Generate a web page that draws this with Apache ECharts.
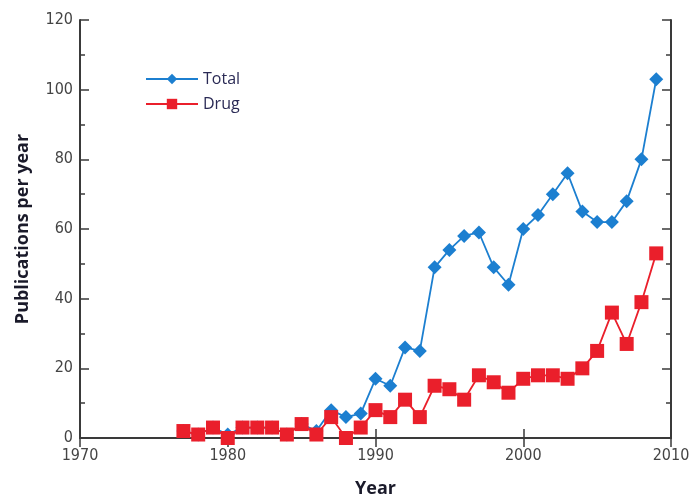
<!DOCTYPE html>
<html>
<head>
<meta charset="utf-8">
<script src="https://cdn.jsdelivr.net/npm/echarts@6/dist/echarts.min.js"></script>
<style>html,body{margin:0;padding:0;background:#fff}#c{width:697px;height:498px}</style>
</head>
<body>
<div id="c"></div>
<script>
var years = [1977,1978,1979,1980,1981,1982,1983,1984,1985,1986,1987,1988,1989,1990,1991,1992,1993,1994,1995,1996,1997,1998,1999,2000,2001,2002,2003,2004,2005,2006,2007,2008,2009];
var totalValues = [2,1,3,1,3,3,3,1,4,2,8,6,7,17,15,26,25,49,54,58,59,49,44,60,64,70,76,65,62,62,68,80,103];
var drugValues = [2,1,3,0,3,3,3,1,4,1,6,0,3,8,6,11,6,15,14,11,18,16,13,17,18,18,17,20,25,36,27,39,53];
var xTicks = [1970,1980,1990,2000,2010];
var yTicks = [0,20,40,60,80,100,120];

function pairs(vals){ return years.map(function(y,i){ return [y, vals[i]]; }); }

var chart = echarts.init(document.getElementById('c'));
var lineCol = '#3a3a3a';
var condensed = '"DejaVu Sans Condensed", "Liberation Sans Narrow", "Open Sans", sans-serif';
var labelFont = {color:'#444', fontSize:16, fontFamily:condensed};
var nameFont = {fontSize:18, fontWeight:'bold', color:'#1a1a2a', fontFamily:'"Open Sans", sans-serif'};
chart.setOption({
  animation:false,
  grid:{left:80, right:26, top:20, bottom:60, containLabel:false, outerBoundsMode:'none'},
  legend:{
    orient:'vertical', left:140, top:66, itemGap:9, itemWidth:52, itemHeight:13,
    textStyle:{fontSize:16, color:'#2a2a55', fontFamily:'"Open Sans", sans-serif'},
    data:['Total','Drug']
  },
  xAxis:[{
    type:'value', min:xTicks[0], max:xTicks[xTicks.length-1], interval:10,
    name:'Year', nameLocation:'middle', nameGap:42,
    nameTextStyle:nameFont,
    axisLine:{lineStyle:{color:lineCol, width:2}},
    axisTick:{inside:true, length:9, lineStyle:{color:lineCol, width:1.5}},
    axisLabel:Object.assign({margin:10, formatter:function(v){return String(v);}}, labelFont),
    splitLine:{show:false}
  },{
    type:'value', position:'top', min:xTicks[0], max:xTicks[xTicks.length-1], interval:10,
    axisLine:{show:true, lineStyle:{color:lineCol, width:2}},
    axisTick:{show:true, inside:true, length:9, lineStyle:{color:lineCol, width:1.5}},
    axisLabel:{show:false}, splitLine:{show:false}
  }],
  yAxis:[{
    type:'value', min:yTicks[0], max:yTicks[yTicks.length-1], interval:20,
    name:'Publications per year', nameLocation:'middle', nameGap:48,
    nameTextStyle:nameFont,
    axisLine:{show:true, lineStyle:{color:lineCol, width:2}},
    axisTick:{inside:true, length:9, lineStyle:{color:lineCol, width:1.5}},
    minorTick:{show:true, splitNumber:2, length:5, lineStyle:{color:lineCol, width:1.5}},
    axisLabel:Object.assign({margin:7}, labelFont),
    splitLine:{show:false}
  },{
    type:'value', position:'right', min:yTicks[0], max:yTicks[yTicks.length-1], interval:20,
    axisLine:{show:true, lineStyle:{color:lineCol, width:2}},
    axisTick:{show:true, inside:true, length:9, lineStyle:{color:lineCol, width:1.5}},
    minorTick:{show:true, splitNumber:2, length:5, lineStyle:{color:lineCol, width:1.5}},
    axisLabel:{show:false}, splitLine:{show:false}
  }],
  series:[{
    name:'Total', type:'line', data:pairs(totalValues),
    symbol:'diamond', symbolSize:14,
    lineStyle:{color:'#1c7fd0', width:1.8},
    itemStyle:{color:'#1c7fd0'}, z:2
  },{
    name:'Drug', type:'line', data:pairs(drugValues),
    symbol:'rect', symbolSize:14,
    lineStyle:{color:'#ea1f2b', width:1.8},
    itemStyle:{color:'#ea1f2b'}, z:3
  }]
});
</script>
</body>
</html>
